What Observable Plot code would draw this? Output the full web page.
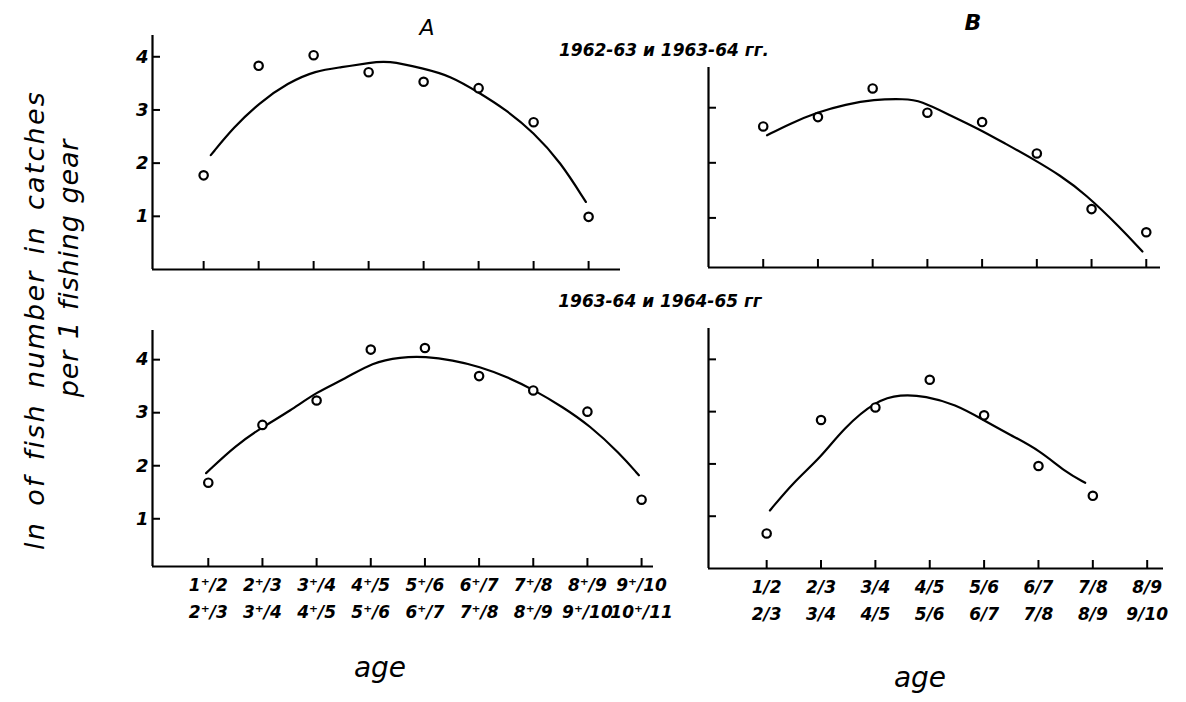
<!DOCTYPE html>
<html><head><meta charset="utf-8">
<script src="https://cdn.jsdelivr.net/npm/d3@7"></script>
<script src="https://cdn.jsdelivr.net/npm/@observablehq/plot@0.6"></script>
<style>
body{margin:0;background:#fff;}
#page{position:relative;width:1186px;height:702px;overflow:hidden;background:#fff;font-family:"DejaVu Sans",sans-serif;color:#000}
.lbl{position:absolute;white-space:nowrap;font-style:italic;line-height:1;transform:translate(-50%,-50%)}
.rot{transform:translate(-50%,-50%) rotate(-90deg)}
</style></head><body><div id="page"></div>
<script>
// ---- tick labels (age groups) ----
const leftAgeLine1 = ["1⁺/2","2⁺/3","3⁺/4","4⁺/5","5⁺/6","6⁺/7","7⁺/8","8⁺/9","9⁺/10"];
const leftAgeLine2 = ["2⁺/3","3⁺/4","4⁺/5","5⁺/6","6⁺/7","7⁺/8","8⁺/9","9⁺/10","10⁺/11"];
const rightAgeLine1 = ["1/2","2/3","3/4","4/5","5/6","6/7","7/8","8/9"];
const rightAgeLine2 = ["2/3","3/4","4/5","5/6","6/7","7/8","8/9","9/10"];
const yTicks = [1,2,3,4];

// ---- observed points (ln of fish number per 1 fishing gear) ----
const obsA1 = [1.77, 3.83, 4.03, 3.71, 3.53, 3.41, 2.77, 0.99];
const obsB1 = [2.66, 2.83, 3.35, 2.91, 2.74, 2.17, 1.16, 0.74];
const obsA2 = [1.68, 2.77, 3.23, 4.19, 4.22, 3.69, 3.42, 3.02, 1.36];
const obsB2 = [0.67, 2.84, 3.08, 3.61, 2.93, 1.96, 1.39];

// ---- fitted curves ----
const fitA1Age = [1.13,1.55,2.02,2.53,3.04,3.49,4.04,4.33,5.0,5.49,6.0,6.49,7.0,7.49,7.95];
const fitA1Val = [2.15,2.68,3.14,3.51,3.74,3.80,3.89,3.93,3.78,3.64,3.33,3.01,2.58,2.02,1.27];
const fitB1Age = [1.07,1.49,1.99,2.51,3.01,3.59,3.87,4.42,4.93,5.42,5.93,6.43,6.88,7.52,7.93];
const fitB1Val = [2.50,2.71,2.92,3.06,3.15,3.16,3.13,2.86,2.62,2.35,2.07,1.77,1.44,0.83,0.39];
const fitA2Age = [0.96,1.50,2.0,2.52,3.0,3.53,4.03,4.55,5.01,5.51,6.01,6.51,7.03,7.54,8.04,8.6,8.95];
const fitA2Val = [1.86,2.38,2.73,3.04,3.39,3.64,3.95,4.05,4.06,3.99,3.87,3.68,3.42,3.11,2.76,2.23,1.82];
const fitB2Age = [1.06,1.50,2.0,2.41,3.02,3.46,3.92,4.47,4.99,5.49,6.02,6.49,6.86];
const fitB2Val = [1.11,1.66,2.13,2.68,3.22,3.33,3.30,3.14,2.84,2.55,2.26,1.85,1.64];

// ---- text ----
const headA = "A", headB = "B";
const period1 = "1962-63 и 1963-64 гг.";
const period2 = "1963-64 и 1964-65 гг";
const yTitle1 = "ln of fish number in catches";
const yTitle2 = "per 1 fishing gear";
const xTitle = "age";

const page = document.getElementById("page");
const FONT = "'DejaVu Sans', sans-serif";

function panel(cfg) {
  const ml = 60, mr = 30, mt = 10, mb = 80;
  const w = cfg.x1 - cfg.x0, h = cfg.y1 - cfg.y0;
  const obs = cfg.obs.map((v, i) => ({age: i + 1, v}));
  const fit = cfg.fitAge.map((a, i) => ({age: a, v: cfg.fitVal[i]}));
  const xt = d3.range(1, cfg.nTicks + 1);
  const yt = yTicks.filter(t => t >= cfg.yDomain[0] && t <= cfg.yDomain[1]);
  const marks = [
    Plot.axisY({ticks: yt, tickSize: -8, tickFormat: () => "", strokeWidth: 2, label: null}),
    Plot.axisX({ticks: xt, tickSize: -8, tickFormat: () => "", strokeWidth: 2, label: null})
  ];
  if (cfg.yLabels) marks.push(Plot.axisY({ticks: yt, tickSize: 0, tickPadding: 4, fontSize: 18, fontWeight: "bold",
      tickFormat: d3.format("d"), label: null}));
  if (cfg.l1) marks.push(Plot.axisX({ticks: xt, tickSize: 0, tickPadding: 5, fontSize: 17, fontWeight: "bold", lineHeight: 1.6,
      tickFormat: d => cfg.l1[d - 1] + "\n" + cfg.l2[d - 1], label: null}));
  marks.push(
    Plot.ruleY([cfg.yDomain[0]], {stroke: "#000", strokeWidth: 2.2}),
    Plot.ruleX([cfg.xDomain[0]], {stroke: "#000", strokeWidth: 2.2}),
    Plot.line(fit, {x: "age", y: "v", curve: "basis", stroke: "#000", strokeWidth: 2.2}),
    Plot.dot(obs, {x: "age", y: "v", r: 4.2, stroke: "#000", strokeWidth: 2.2, fill: "white"})
  );
  const svg = Plot.plot({
    width: w + ml + mr, height: h + mt + mb,
    marginLeft: ml, marginRight: mr, marginTop: mt, marginBottom: mb,
    x: {domain: cfg.xDomain, label: null},
    y: {domain: cfg.yDomain, label: null},
    style: {background: "transparent", overflow: "visible", fontFamily: FONT, fontStyle: "italic", color: "#000"},
    marks
  });
  svg.style.position = "absolute";
  svg.style.left = (cfg.x0 - ml) + "px";
  svg.style.top = (cfg.y0 - mt) + "px";
  page.appendChild(svg);
}

panel({x0: 152, x1: 620, y0: 35, y1: 269, xDomain: [0.07, 8.58], yDomain: [0, 4.4],
  obs: obsA1, fitAge: fitA1Age, fitVal: fitA1Val, nTicks: 8, yLabels: true});
panel({x0: 708, x1: 1160, y0: 67, y1: 267, xDomain: [0, 8.26], yDomain: [0.1, 3.73],
  obs: obsB1, fitAge: fitB1Age, fitVal: fitB1Val, nTicks: 8, yLabels: false});
panel({x0: 152, x1: 653, y0: 330, y1: 566, xDomain: [-0.03, 9.22], yDomain: [0.1, 4.55],
  obs: obsA2, fitAge: fitA2Age, fitVal: fitA2Val, nTicks: 9, yLabels: true, l1: leftAgeLine1, l2: leftAgeLine2});
panel({x0: 708, x1: 1163, y0: 328, y1: 568, xDomain: [-0.07, 8.3], yDomain: [0, 4.59],
  obs: obsB2, fitAge: fitB2Age, fitVal: fitB2Val, nTicks: 8, yLabels: false, l1: rightAgeLine1, l2: rightAgeLine2});

function label(text, x, y, size, extra) {
  extra = extra || {};
  const d = document.createElement("div");
  d.className = "lbl" + (extra.rot ? " rot" : "");
  d.textContent = text;
  d.style.left = x + "px"; d.style.top = y + "px"; d.style.fontSize = size + "px";
  if (extra.weight) d.style.fontWeight = extra.weight;
  if (extra.spacing) { d.style.letterSpacing = extra.spacing + "px"; d.style.wordSpacing = (extra.spacing * 2) + "px"; }
  page.appendChild(d);
}
label(headA, 427, 28, 22);
label(headB, 973, 23, 22, {weight: "bold"});
label(period1, 664, 50, 17, {weight: "bold"});
label(period2, 660, 301, 17, {weight: "bold"});
label(yTitle1, 34, 320, 27, {rot: true, spacing: 2.2});
label(yTitle2, 68, 268, 27, {rot: true, spacing: 0.8});
label(xTitle, 380, 668, 28);
label(xTitle, 920, 678, 28);
</script></body></html>
